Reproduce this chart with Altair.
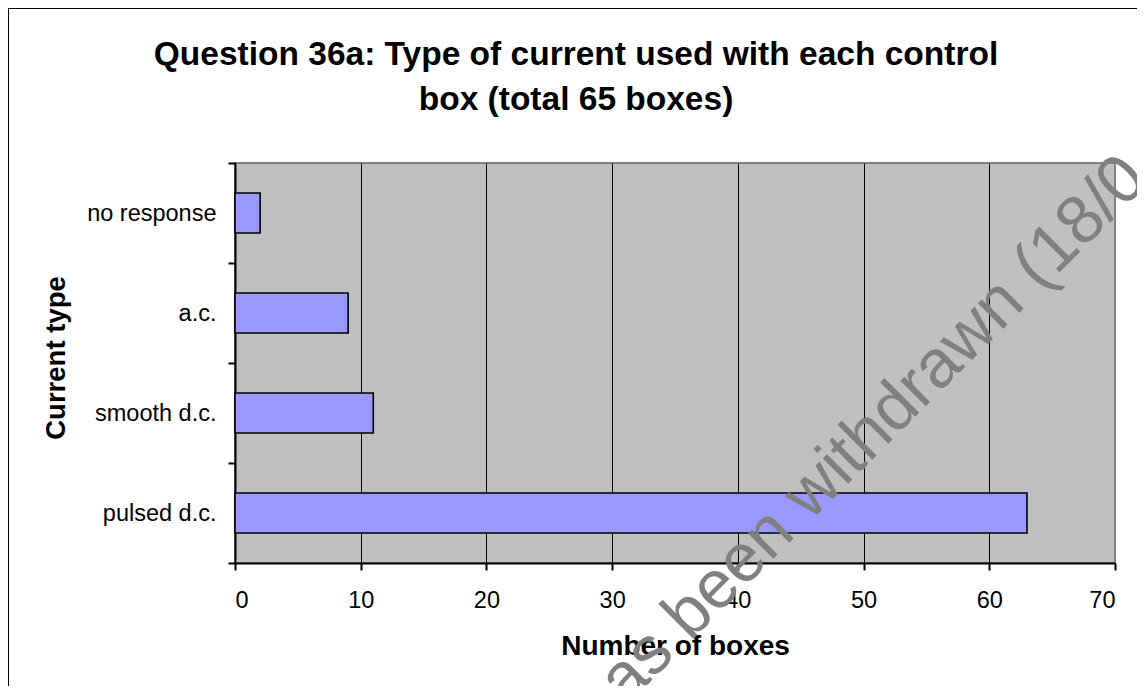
import altair as alt
import pandas as pd

# ---- data ----
categories = ["no response", "a.c.", "smooth d.c.", "pulsed d.c."]
counts = [2, 9, 11, 63]
x_ticks = [0, 10, 20, 30, 40, 50, 60, 70]
title_lines = ["Question 36a: Type of current used with each control",
               "box (total 65 boxes)"]
x_title = "Number of boxes"
y_title = "Current type"
watermark_text = "has been withdrawn (18/0"

FONT = "Liberation Sans"
W, H = 880, 400
PAD_L, PAD_T = 227, 155
SVG_W, SVG_H = 1129, 678

df = pd.DataFrame({"type": categories, "count": counts})

bars = alt.Chart(df).mark_bar(
    height={"band": 0.4}, fill="#9999FF", stroke="black", strokeWidth=1.6
).encode(
    x=alt.X(
        "count:Q",
        scale=alt.Scale(domain=[0, 70], nice=False, zero=True),
        axis=alt.Axis(
            values=x_ticks, title=x_title, format="d",
            grid=True, gridWidth=1,
            gridColor={"condition": {"test": "datum.value >= 70", "value": "#808080"}, "value": "black"},
            domainColor="black", domainWidth=2,
            tickColor="black", tickWidth=2, tickSize=7,
            labelFont=FONT, labelFontSize=23.5, labelColor="black", labelPadding=18,
            titleFont=FONT, titleFontSize=28, titleFontWeight="bold", titleColor="black",
            titleY=91, titleBaseline="alphabetic",
        ),
    ),
    y=alt.Y(
        "type:N", sort=categories,
        scale=alt.Scale(paddingInner=0, paddingOuter=0),
        axis=alt.Axis(
            title=y_title, tickBand="extent", grid=False,
            domainColor="black", domainWidth=2,
            tickColor="black", tickWidth=2, tickSize=7,
            labelFont=FONT, labelFontSize=23.5, labelColor="black", labelPadding=12,
            titleFont=FONT, titleFontSize=27.5, titleFontWeight="bold", titleColor="black",
            titlePadding=16, titleY=194.5,
        ),
    ),
)

wm_df = pd.DataFrame({"t": [watermark_text]})
watermark = alt.Chart(wm_df).mark_text(
    font=FONT, fontSize=68, color="#808080", angle=315,
    align="left", baseline="alphabetic",
).encode(text="t:N", x=alt.value(364), y=alt.value(570))

frame_top = alt.Chart(wm_df).mark_rule(color="black", strokeWidth=2).encode(
    x=alt.value(-PAD_L), x2=alt.value(SVG_W), y=alt.value(-PAD_T))
frame_left = alt.Chart(wm_df).mark_rule(color="black", strokeWidth=2).encode(
    x=alt.value(-PAD_L), y=alt.value(-PAD_T), y2=alt.value(SVG_H))

chart = alt.layer(bars, watermark, frame_top, frame_left).properties(
    width=W, height=H,
    title=alt.TitleParams(
        text=title_lines, anchor="middle", font=FONT, fontSize=33.5,
        fontWeight="bold", color="black", lineHeight=45, dx=-99,
        baseline="alphabetic", offset=-136,
    ),
    autosize=alt.AutoSizeParams(type="none"),
    padding={"left": PAD_L, "top": PAD_T, "right": SVG_W - PAD_L - W, "bottom": SVG_H - PAD_T - H},
    background="white",
).configure_view(
    fill="#C0C0C0", stroke="#808080", strokeWidth=2
)

chart.save("out.html", embed_options={"renderer": "svg", "actions": False})
